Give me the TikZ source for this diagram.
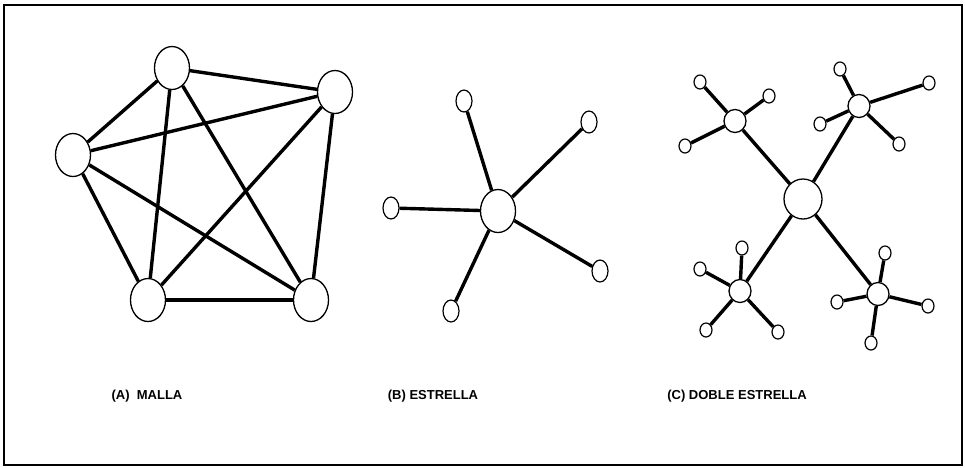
\documentclass[tikz,border=0pt]{standalone}
\usepackage{fontspec}
\setmainfont{Liberation Sans}
\usetikzlibrary{shapes.geometric}
\begin{document}
\begin{tikzpicture}[x=1pt,y=-1pt,
  big/.style={ellipse,draw,line width=1.3pt,inner sep=0pt,minimum width=35pt,minimum height=43pt,fill=white},
  hubnode/.style={ellipse,draw,line width=1.3pt,inner sep=0pt,minimum width=22pt,minimum height=23pt,fill=white},
  leafA/.style={ellipse,draw,line width=1.2pt,inner sep=0pt,minimum width=16pt,minimum height=22pt,fill=white},
  leafB/.style={ellipse,draw,line width=1.2pt,inner sep=0pt,minimum width=12pt,minimum height=14pt,fill=white},
  link/.style={line width=3.4pt},
  lbl/.style={font=\bfseries\fontsize{13}{15}\selectfont}]
\useasboundingbox (0,0) rectangle (965,467);
\draw[line width=1.5pt] (4,5) rectangle (962,465);
% (A) mesh
\node[big] (m1) at (172,68) {};
\node[big] (m2) at (335,92) {};
\node[big] (m3) at (73,155) {};
\node[big] (m4) at (148,300) {};
\node[big] (m5) at (311,300) {};
\foreach \a/\b in {m1/m2,m1/m3,m1/m4,m1/m5,m2/m3,m2/m4,m2/m5,m3/m4,m3/m5,m4/m5}
  \draw[link] (\a) -- (\b);
\node[lbl] (la) at (147,396) {(A)\ \ MALLA};
% (B) star
\node[big] (s0) at (498,211) {};
\node[leafA] (s1) at (464,101) {};
\node[leafA] (s2) at (589,122) {};
\node[leafA] (s3) at (391,208) {};
\node[leafA] (s4) at (600,271) {};
\node[leafA] (s5) at (451,311) {};
\foreach \b in {s1,s2,s3,s4,s5}
  \draw[link] (s0) -- (\b);
\node[lbl] (lb) at (433,396) {(B) ESTRELLA};
% (C) double star
\node[big,minimum width=38pt,minimum height=40pt] (d0) at (803,199) {};
\node[hubnode] (h1) at (735,121) {};
\node[hubnode] (h2) at (859,106) {};
\node[hubnode] (h3) at (740,291) {};
\node[hubnode] (h4) at (878,294) {};
\foreach \b in {h1,h2,h3,h4}
  \draw[link] (d0) -- (\b);
\node[leafB] (a1) at (700,82) {};
\node[leafB] (a2) at (769,96) {};
\node[leafB] (a3) at (685,146) {};
\node[leafB] (b1) at (840,69) {};
\node[leafB] (b2) at (929,83) {};
\node[leafB] (b3) at (820,124) {};
\node[leafB] (b4) at (899,144) {};
\node[leafB] (c1) at (742,248) {};
\node[leafB] (c2) at (700,269) {};
\node[leafB] (c3) at (706,330) {};
\node[leafB] (c4) at (778,332) {};
\node[leafB] (e1) at (885,253) {};
\node[leafB] (e2) at (837,302) {};
\node[leafB] (e3) at (928,306) {};
\node[leafB] (e4) at (871,343) {};
\foreach \a/\b in {h1/a1,h1/a2,h1/a3,h2/b1,h2/b2,h2/b3,h2/b4,h3/c1,h3/c2,h3/c3,h3/c4,h4/e1,h4/e2,h4/e3,h4/e4}
  \draw[link] (\a) -- (\b);
\node[lbl] (lc) at (737,396) {(C) DOBLE ESTRELLA};
\end{tikzpicture}
\end{document}
